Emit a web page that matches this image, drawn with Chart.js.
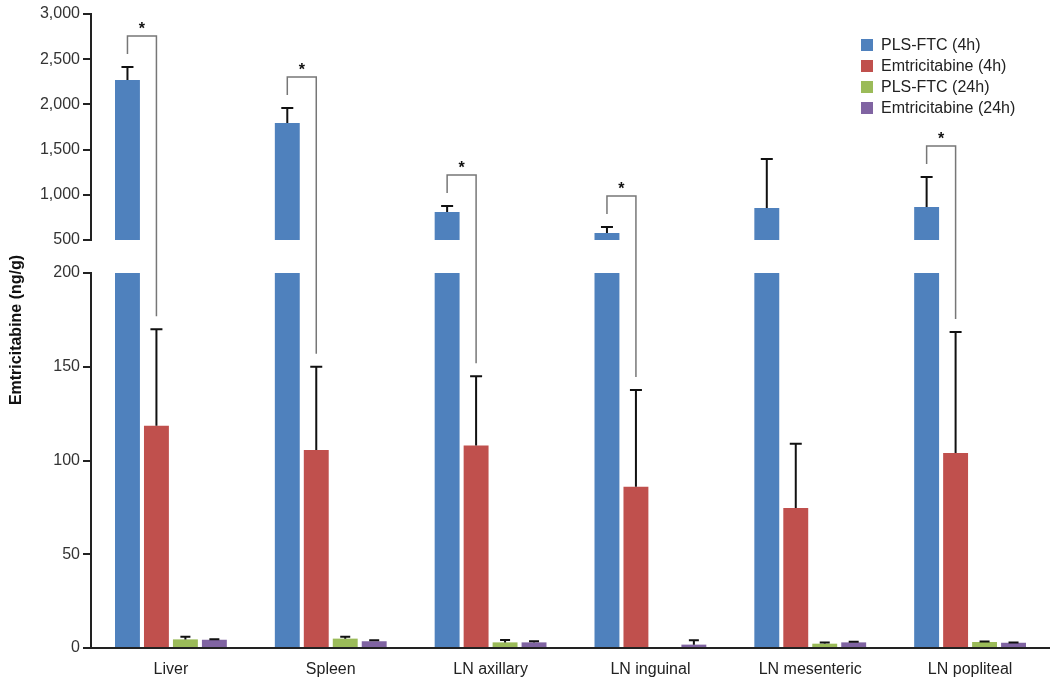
<!DOCTYPE html>
<html>
<head>
<meta charset="utf-8">
<script src="https://cdn.jsdelivr.net/npm/chart.js@4.4.1/dist/chart.umd.min.js"></script>
<style>
  html, body { margin: 0; padding: 0; background: #fff; }
  #wrap { width: 1050px; height: 687px; }
</style>
</head>
<body>
<div id="wrap"><canvas id="chart"></canvas></div>
<script>
// tissues
const tissues = ["Liver", "Spleen", "LN axillary", "LN inguinal", "LN mesenteric", "LN popliteal"];

// mean concentration (ng/g)
const plsFtc4h = [2270, 1795, 810, 577, 854, 865];
const emtri4h = [118.5, 105.6, 108, 86, 74.7, 104];
const plsFtc24h = [4.6, 5, 3, 0, 2.3, 3.2];
const emtri24h = [4.4, 3.6, 3, 1.8, 3, 2.8];

// upper error bars (ng/g)
const plsFtc4hErr = [144, 165, 66, 66, 542, 332];
const emtri4hErr = [51.5, 44.4, 37, 51.6, 34.3, 64.5];
const plsFtc24hErr = [1.4, 1, 1.3, 0, 0.7, 0.3];
const emtri24hErr = [0.3, 0.5, 0.6, 2.3, 0.4, 0.2];

// * PLS-FTC (4h) vs Emtricitabine (4h)
const significant = [true, true, true, true, false, true];

// broken y axis
const lowerTicks = [0, 50, 100, 150, 200];
const upperTicks = [500, 1000, 1500, 2000, 2500, 3000];

const LOWER_MAX = lowerTicks[lowerTicks.length - 1];
const UPPER_MIN = upperTicks[0];
const FONT = "'Liberation Sans', Arial, Helvetica, sans-serif";

const series = [
  { label: "PLS-FTC (4h)", data: plsFtc4h, err: plsFtc4hErr, color: "#4F81BD", stack: "a" },
  { label: "Emtricitabine (4h)", data: emtri4h, err: emtri4hErr, color: "#C0504D", stack: "b" },
  { label: "PLS-FTC (24h)", data: plsFtc24h, err: plsFtc24hErr, color: "#9BBB59", stack: "c" },
  { label: "Emtricitabine (24h)", data: emtri24h, err: emtri24hErr, color: "#8064A2", stack: "d" }
];

const barOpts = { categoryPercentage: 0.725, barPercentage: 0.86, borderWidth: 0 };

// lower part of the axis (0-200), bars cut at the break
const datasets = series.map(s => ({
  label: s.label,
  data: s.data.map(v => Math.min(v, LOWER_MAX)),
  backgroundColor: s.color,
  yAxisID: "y",
  stack: s.stack,
  ...barOpts
}));

// upper part of the axis (500-3000), only PLS-FTC (4h) reaches it
datasets.push({
  label: series[0].label,
  data: plsFtc4h.map(v => (v > UPPER_MIN ? v : null)),
  backgroundColor: series[0].color,
  yAxisID: "yTop",
  stack: series[0].stack,
  ...barOpts
});

const axisColor = "#222";

const yAxis = function (weight, min, max, ticks) {
  return {
    type: "linear",
    position: "left",
    stack: "left",
    stackWeight: weight,
    min: min,
    max: max,
    afterBuildTicks: s => { s.ticks = ticks.map(v => ({ value: v })); },
    afterFit: s => { s.width = 91; },
    grid: { drawOnChartArea: false, color: axisColor, lineWidth: 2, tickLength: 8 },
    border: { color: axisColor, width: 2 },
    ticks: {
      color: "#333",
      padding: 3,
      font: { family: FONT, size: 16 },
      callback: v => v.toLocaleString("en-US")
    }
  };
};

//Error bars, significance brackets, legend and axis title
const annotate = {
  id: "annotate",
  afterDatasetsDraw(chart) {
    const ctx = chart.ctx;
    const lower = chart.scales.y;
    const upper = chart.scales.yTop;
    ctx.save();

    // error bars
    ctx.strokeStyle = "#111";
    ctx.lineWidth = 2;
    series.forEach((s, i) => {
      const onTop = i === 0;
      const meta = chart.getDatasetMeta(onTop ? series.length : i);
      const scale = onTop ? upper : lower;
      meta.data.forEach((bar, j) => {
        const err = s.err[j];
        if (!err) return;
        const capY = scale.getPixelForValue(s.data[j] + err);
        const half = i < 2 ? 6 : 5;
        ctx.beginPath();
        ctx.moveTo(bar.x, bar.y);
        ctx.lineTo(bar.x, capY);
        ctx.moveTo(bar.x - half, capY);
        ctx.lineTo(bar.x + half, capY);
        ctx.stroke();
      });
    });

    // brackets
    ctx.strokeStyle = "#777";
    ctx.lineWidth = 1.5;
    ctx.fillStyle = "#111";
    ctx.font = "bold 16px " + FONT;
    ctx.textAlign = "center";
    ctx.textBaseline = "alphabetic";
    significant.forEach((sig, j) => {
      if (!sig) return;
      const blue = chart.getDatasetMeta(series.length).data[j];
      const red = chart.getDatasetMeta(1).data[j];
      const blueCap = upper.getPixelForValue(plsFtc4h[j] + plsFtc4hErr[j]);
      const redCap = lower.getPixelForValue(emtri4h[j] + emtri4hErr[j]);
      const topY = blueCap - 31;
      ctx.beginPath();
      ctx.moveTo(blue.x, blueCap - 13);
      ctx.lineTo(blue.x, topY);
      ctx.lineTo(red.x, topY);
      ctx.lineTo(red.x, redCap - 13);
      ctx.stroke();
      ctx.fillText("*", (blue.x + red.x) / 2, topY - 2);
    });

    // legend
    ctx.font = "16px " + FONT;
    ctx.textAlign = "left";
    ctx.textBaseline = "middle";
    series.forEach((s, i) => {
      const y = 45 + i * 21;
      ctx.fillStyle = s.color;
      ctx.fillRect(861, y - 6, 12, 12);
      ctx.fillStyle = "#222";
      ctx.fillText(s.label, 881, y + 1);
    });

    // y title
    ctx.translate(17, 330);
    ctx.rotate(-Math.PI / 2);
    ctx.textAlign = "center";
    ctx.font = "bold 16px " + FONT;
    ctx.fillStyle = "#111";
    ctx.fillText("Emtricitabine (ng/g)", 0, 0);
    ctx.restore();
  }
};

new Chart(document.getElementById("chart"), {
  type: "bar",
  data: { labels: tissues, datasets: datasets },
  options: {
    responsive: true,
    maintainAspectRatio: false,
    animation: false,
    layout: { padding: { left: 0, right: 0, top: 14, bottom: 0 } },
    plugins: {
      legend: { display: false },
      tooltip: { enabled: false }
    },
    scales: {
      x: {
        grid: { display: false },
        border: { color: axisColor, width: 2 },
        ticks: { color: "#222", padding: 4, font: { family: FONT, size: 16 } },
        afterFit: s => { s.height = 39; }
      },
      y: yAxis(375, 0, LOWER_MAX, lowerTicks),
      yGap: {
        type: "linear",
        position: "left",
        stack: "left",
        stackWeight: 33,
        grid: { display: false },
        border: { display: false },
        ticks: { display: false },
        afterFit: s => { s.width = 91; }
      },
      yTop: yAxis(226, UPPER_MIN, upperTicks[upperTicks.length - 1], upperTicks)
    }
  },
  plugins: [annotate]
});
</script>
</body>
</html>
